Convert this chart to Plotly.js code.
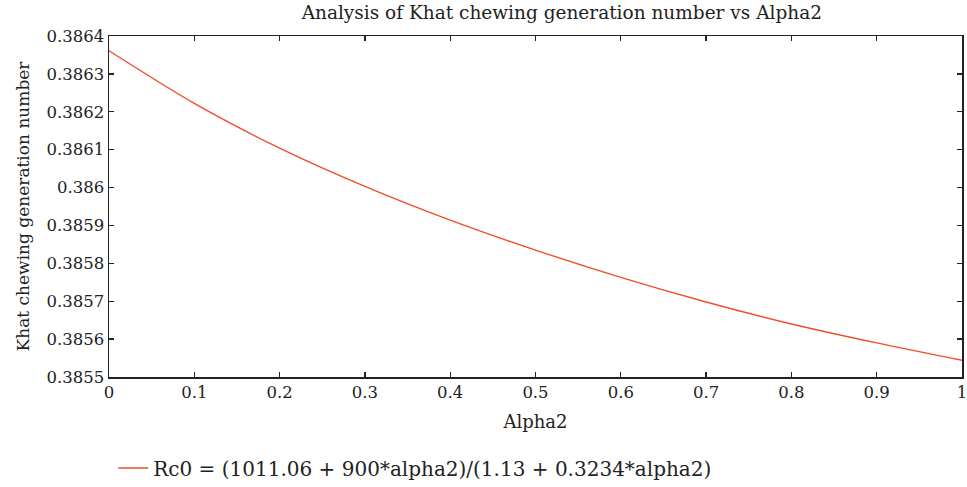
<!DOCTYPE html>
<html>
<head>
<meta charset="utf-8">
<script src="https://cdn.plot.ly/plotly-3.0.1.min.js"></script>
<style>html,body{margin:0;padding:0;background:#fff;}#chart{width:967px;height:487px;}</style>
</head>
<body>
<div id="chart"></div>
<script>
var alpha2 = [0, 0.1, 0.2, 0.3, 0.4, 0.5, 0.6, 0.7, 0.8, 0.9, 1.0];
var rc0 = [0.386361, 0.386222, 0.386104, 0.386003, 0.385914, 0.385835, 0.385763, 0.385698, 0.385640, 0.385590, 0.385544];
var yTickVals = [0.3855, 0.3856, 0.3857, 0.3858, 0.3859, 0.3860, 0.3861, 0.3862, 0.3863, 0.3864];
var yTickText = ["0.3855", "0.3856", "0.3857", "0.3858", "0.3859", "0.386", "0.3861", "0.3862", "0.3863", "0.3864"];
var xTickVals = [0, 0.1, 0.2, 0.3, 0.4, 0.5, 0.6, 0.7, 0.8, 0.9, 1];
var xTickText = ["0", "0.1", "0.2", "0.3", "0.4", "0.5", "0.6", "0.7", "0.8", "0.9", "1"];
var seriesName = "Rc0 = (1011.06 + 900*alpha2)/(1.13 + 0.3234*alpha2)";

var font = "DejaVu Serif, serif";
var txt = '#222';
var trace = {
  x: alpha2, y: rc0, type: 'scatter', mode: 'lines', name: seriesName,
  line: {color: '#f04e28', width: 1.4, shape: 'spline', smoothing: 0.8}
};
var axisCommon = {
  showgrid: false, zeroline: false, showline: true, linecolor: '#222', linewidth: 1.5,
  mirror: 'ticks', ticks: 'inside', ticklen: 5, tickwidth: 1.3, tickcolor: '#222',
  ticklabeloverflow: 'allow', automargin: false,
  tickfont: {family: font, size: 16.5, color: txt}
};
var layout = {
  width: 967, height: 487,
  margin: {l: 109, r: 5, t: 36, b: 110, autoexpand: false},
  paper_bgcolor: '#fff', plot_bgcolor: '#fff',
  font: {family: font, color: txt},
  title: {text: 'Analysis of Khat chewing generation number vs Alpha2', font: {family: font, size: 18.5, color: txt},
          x: 0.581, xanchor: 'center', y: 0.975, yanchor: 'middle'},
  xaxis: Object.assign({}, axisCommon, {
    range: [0, 1], tickvals: xTickVals, ticktext: xTickText,
    title: {text: 'Alpha2', font: {family: font, size: 18, color: txt}, standoff: 14}
  }),
  yaxis: Object.assign({}, axisCommon, {
    range: [0.3855, 0.3864], tickvals: yTickVals, ticktext: yTickText,
    title: {text: 'Khat chewing generation number', font: {family: font, size: 17, color: txt}, standoff: 12}
  }),
  showlegend: true,
  legend: {x: 0.005, xanchor: 'left', y: -0.267, yanchor: 'middle', orientation: 'h',
           font: {family: font, size: 20, color: txt}, bgcolor: 'rgba(0,0,0,0)'}
};
Plotly.newPlot('chart', [trace], layout, {displayModeBar: false, staticPlot: true});
</script>
</body>
</html>
